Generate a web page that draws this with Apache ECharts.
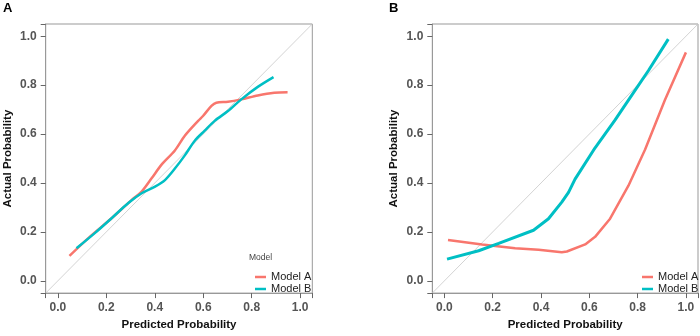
<!DOCTYPE html>
<html>
<head>
<meta charset="utf-8">
<script src="https://cdn.jsdelivr.net/npm/echarts@6/dist/echarts.min.js"></script>
<style>
  html, body { margin: 0; padding: 0; background: #fff; }
  #chart { width: 700px; height: 336px; }
</style>
</head>
<body>
<div id="chart"></div>
<script>
// tick positions shared by both panels
const tickValues = [0, 0.2, 0.4, 0.6, 0.8, 1.0]
const seriesNames = ['Model A', 'Model B']

// panel A: [predicted, actual]
const panelA_modelA = [
  [0.048, 0.102], [0.127, 0.176], [0.223, 0.257], [0.305, 0.331], [0.346, 0.365],
  [0.387, 0.419], [0.428, 0.475], [0.483, 0.533], [0.524, 0.593], [0.579, 0.654],
  [0.599, 0.674], [0.634, 0.715], [0.654, 0.728], [0.702, 0.732], [0.757, 0.742],
  [0.825, 0.758], [0.893, 0.769], [0.948, 0.771]
]
const panelA_modelB = [
  [0.077, 0.133], [0.155, 0.197], [0.223, 0.257], [0.291, 0.318], [0.346, 0.358],
  [0.401, 0.385], [0.442, 0.412], [0.483, 0.459], [0.524, 0.513], [0.565, 0.573],
  [0.606, 0.614], [0.647, 0.654], [0.702, 0.694], [0.757, 0.742], [0.825, 0.793],
  [0.89, 0.833]
]

// panel B: [predicted, actual]
const panelB_modelA = [
  [0.015, 0.167], [0.156, 0.149], [0.293, 0.133], [0.39, 0.127], [0.486, 0.117],
  [0.507, 0.12], [0.583, 0.149], [0.624, 0.18], [0.686, 0.254], [0.762, 0.389],
  [0.831, 0.537], [0.913, 0.739], [1.0, 0.934]
]
const panelB_modelB = [
  [0.011, 0.089], [0.142, 0.123], [0.225, 0.153], [0.369, 0.207], [0.431, 0.254],
  [0.486, 0.322], [0.514, 0.362], [0.541, 0.416], [0.624, 0.544], [0.707, 0.658],
  [0.776, 0.759], [0.845, 0.86], [0.927, 0.988]
]

const diagonal = [[-0.05, -0.05], [1.05, 1.05]]

const red = '#F8766D'
const teal = '#00BFC4'

function makeAxis(idx, isX) {
  return {
    type: 'value',
    gridIndex: idx,
    min: -0.05,
    max: 1.05,
    name: isX ? 'Predicted Probability' : 'Actual Probability',
    nameLocation: 'middle',
    nameGap: isX ? 24 : 32,
    nameTextStyle: { fontSize: 11.5, fontWeight: 'bold', color: '#111', fontFamily: 'Liberation Sans' },
    axisLine: { show: true, onZero: false, lineStyle: { color: '#999', width: 1 } },
    splitLine: { show: false },
    axisTick: { show: true, inside: false, length: 5, lineStyle: { color: '#666', width: 1 } },
    axisLabel: {
      customValues: tickValues,
      margin: 9,
      fontSize: 12,
      fontWeight: 'bold',
      color: '#555',
      fontFamily: 'Liberation Sans',
      formatter: v => v.toFixed(1)
    }
  }
}

function line(name, data, idx, color, width, smooth) {
  return {
    name: name,
    type: 'line',
    xAxisIndex: idx,
    yAxisIndex: idx,
    data: data,
    smooth: smooth,
    showSymbol: false,
    lineStyle: { color: color, width: width },
    itemStyle: { color: color }
  }
}

function diag(idx) {
  return {
    type: 'line',
    xAxisIndex: idx,
    yAxisIndex: idx,
    data: diagonal,
    showSymbol: false,
    silent: true,
    z: 1,
    lineStyle: { color: '#c8c8c8', width: 0.8 }
  }
}

const chart = echarts.init(document.getElementById('chart'))
chart.setOption({
  animation: false,
  textStyle: { fontFamily: 'Liberation Sans' },
  grid: [
    { left: 45.7, top: 24, width: 266.6, height: 272, show: true, borderColor: '#999', borderWidth: 1 },
    { left: 432.3, top: 24, width: 265.7, height: 272, show: true, borderColor: '#999', borderWidth: 1 }
  ],
  xAxis: [makeAxis(0, true), makeAxis(1, true)],
  yAxis: [makeAxis(0, false), makeAxis(1, false)],
  legend: [
    {
      data: seriesNames, orient: 'vertical', left: 250, top: 266,
      icon: 'rect', itemWidth: 11, itemHeight: 2.5, itemGap: 0,
      textStyle: { fontSize: 11, color: '#222', lineHeight: 12 }
    },
    {
      data: seriesNames, orient: 'vertical', left: 637, top: 266,
      icon: 'rect', itemWidth: 11, itemHeight: 2.5, itemGap: 0,
      textStyle: { fontSize: 11, color: '#222', lineHeight: 12 }
    }
  ],
  graphic: [
    { type: 'text', left: 3, top: 2, style: { text: 'A', fontSize: 13, fontWeight: 'bold', fill: '#000', fontFamily: 'Liberation Sans' } },
    { type: 'text', left: 389, top: 2, style: { text: 'B', fontSize: 13, fontWeight: 'bold', fill: '#000', fontFamily: 'Liberation Sans' } },
    { type: 'text', left: 249, top: 253, style: { text: 'Model', fontSize: 8.5, fill: '#444', fontFamily: 'Liberation Sans' } }
  ],
  series: [
    diag(0),
    diag(1),
    line('Model A', panelA_modelA, 0, red, 2.5, 0.3),
    line('Model B', panelA_modelB, 0, teal, 2.5, 0.3),
    line('Model A', panelB_modelA, 1, red, 2.5, false),
    line('Model B', panelB_modelB, 1, teal, 3, false)
  ]
})
</script>
</body>
</html>
